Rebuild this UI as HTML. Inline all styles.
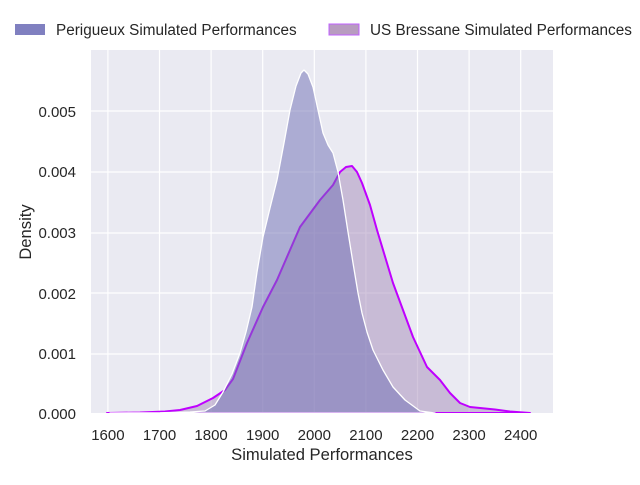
<!DOCTYPE html>
<html><head><meta charset="utf-8"><style>
body{margin:0;background:#fff;}
text{font-family:"Liberation Sans",sans-serif;fill:#262626;}
</style></head><body>
<svg width="640" height="480" xmlns="http://www.w3.org/2000/svg">
<rect x="91" y="50" width="462" height="363" fill="#eaeaf2"/>
<g stroke="#fff" stroke-width="1.2">
<line x1="107.9" y1="50" x2="107.9" y2="413"/><line x1="159.5" y1="50" x2="159.5" y2="413"/>
<line x1="211.1" y1="50" x2="211.1" y2="413"/><line x1="262.7" y1="50" x2="262.7" y2="413"/>
<line x1="314.3" y1="50" x2="314.3" y2="413"/><line x1="365.9" y1="50" x2="365.9" y2="413"/>
<line x1="417.5" y1="50" x2="417.5" y2="413"/><line x1="469.1" y1="50" x2="469.1" y2="413"/>
<line x1="520.7" y1="50" x2="520.7" y2="413"/>
<line x1="91" y1="111" x2="553" y2="111"/><line x1="91" y1="172" x2="553" y2="172"/>
<line x1="91" y1="233" x2="553" y2="233"/><line x1="91" y1="293" x2="553" y2="293"/>
<line x1="91" y1="354" x2="553" y2="354"/>
</g>
<path d="M107,413 L140,412.5 L165,411.5 L180,410 L197,406 L213,398 L225,390 L233,379 L247,343 L263,307 L277,280 L290,250 L300,227 L320,200 L333,185 L340,172 L346,167 L352,166 L357,172 L362,183 L370,205 L377,230 L393,283 L413,337 L427,367 L440,380 L450,393 L460,403 L470,407 L480,408 L495,409.5 L510,411.5 L530,413 Z" fill="rgb(166,140,186)" fill-opacity="0.5" stroke="#bf00ff" stroke-width="2" stroke-linejoin="round"/>
<path d="M110,413 L160,412.8 L190,412 L205,411 L215,405 L223,392 L232,374 L240,353 L246,332 L252,307 L257,272 L263,237 L270,208 L277,180 L284,143 L290,110 L296,86 L301,73 L304,70 L308,74 L313,87 L318,110 L323,133 L328,145 L333,153 L338,172 L343,200 L348,232 L353,263 L358,293 L362,313 L367,332 L373,350 L383,370 L393,387 L405,400 L420,411 L435,413 Z" fill="rgb(110,110,180)" fill-opacity="0.5" stroke="#fff" stroke-width="1.3" stroke-linejoin="round"/>
<rect x="91" y="413" width="462" height="2" fill="#fff"/>
<g font-size="15" text-anchor="middle">
<text x="107.9" y="440">1600</text><text x="159.5" y="440">1700</text><text x="211.1" y="440">1800</text>
<text x="262.7" y="440">1900</text><text x="314.3" y="440">2000</text><text x="365.9" y="440">2100</text>
<text x="417.5" y="440">2200</text><text x="469.1" y="440">2300</text><text x="520.7" y="440">2400</text>
<text x="322" y="460" font-size="16.6">Simulated Performances</text>
</g>
<g font-size="15" text-anchor="end">
<text x="76" y="419">0.000</text><text x="76" y="359">0.001</text><text x="76" y="299">0.002</text>
<text x="76" y="238">0.003</text><text x="76" y="177">0.004</text><text x="76" y="117">0.005</text>
</g>
<text transform="translate(31,232) rotate(-90)" font-size="16.6" text-anchor="middle">Density</text>
<rect x="15" y="24" width="30" height="11" fill="#8080c0"/>
<text x="56" y="35" font-size="15.3">Perigueux Simulated Performances</text>
<rect x="329" y="24" width="30" height="11" fill="#b89cc0" stroke="#c060ff" stroke-width="1"/>
<text x="370" y="35" font-size="15.3">US Bressane Simulated Performances</text>
</svg>
</body></html>
